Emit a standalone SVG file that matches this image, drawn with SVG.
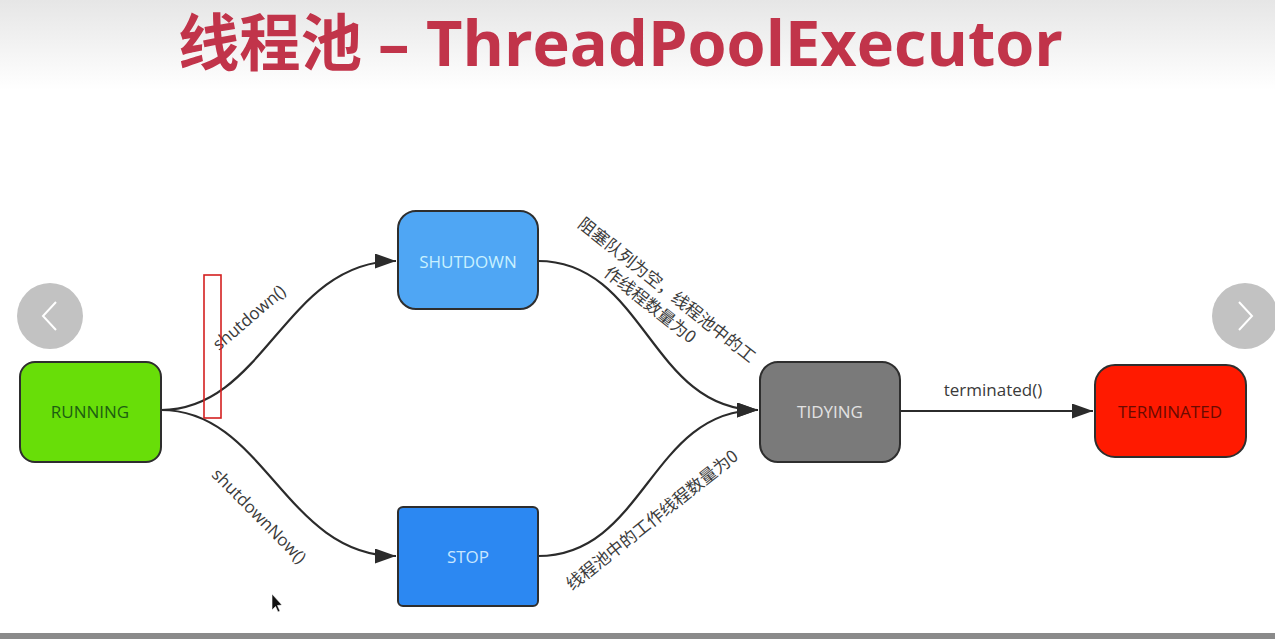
<svg xmlns="http://www.w3.org/2000/svg" width="1275" height="639" viewBox="0 0 1275 639">
  <defs>
    <linearGradient id="topFade" x1="0" y1="0" x2="0" y2="1">
      <stop offset="0" stop-color="#e6e6e6"/>
      <stop offset="1" stop-color="#ffffff"/>
    </linearGradient>
    <marker id="arrow" viewBox="0 0 21 15" refX="21" refY="7.5" markerWidth="21" markerHeight="15" markerUnits="userSpaceOnUse" orient="auto">
      <path d="M0,0 L21,7.5 L0,15 Z" fill="#2b2b2b"/>
    </marker>
    <style>
      .title { font-family: "Open Sans", "Noto Sans CJK SC", sans-serif; font-weight: 700; font-size: 62px; fill: #c1344a; }
      .node { stroke: #2e2e2e; stroke-width: 2; }
      .ntext { font-family: "Open Sans", "Liberation Sans", sans-serif; font-size: 17px; text-anchor: middle; dominant-baseline: central; }
      .edge { fill: none; stroke: #2b2b2b; stroke-width: 2.2; marker-end: url(#arrow); }
      .elabel { font-family: "Open Sans", "Noto Sans CJK SC", sans-serif; font-size: 17px; fill: #3a3a3a; text-anchor: middle; }
      .cjk { font-family: "Noto Sans CJK SC", "Open Sans", sans-serif; font-size: 17px; fill: #3c3c3c; text-anchor: middle; }
      .nav { fill: #c2c2c2; }
      .chev { fill: none; stroke: #ffffff; stroke-width: 2; }
    </style>
  </defs>

  <!-- page background -->
  <rect x="0" y="0" width="1275" height="639" fill="#ffffff"/>
  <rect x="0" y="0" width="1275" height="90" fill="url(#topFade)"/>
  <rect x="0" y="633" width="1275" height="6" fill="#8a8a8a"/>

  <!-- title -->
  <g id="title">
    <text class="title" x="178" y="66" textLength="184" lengthAdjust="spacingAndGlyphs">线程池</text>
    <text class="title" x="378" y="66" textLength="685" lengthAdjust="spacingAndGlyphs">– ThreadPoolExecutor</text>
  </g>

  <!-- slide navigation buttons -->
  <g id="nav-prev">
    <circle class="nav" cx="50" cy="316" r="33"/>
    <path class="chev" d="M56,302 L43,316 L56,330"/>
  </g>
  <g id="nav-next">
    <circle class="nav" cx="1245" cy="316" r="33"/>
    <path class="chev" d="M1239,302 L1252,316 L1239,330"/>
  </g>

  <!-- transitions -->
  <g id="connectors">
    <path class="edge" d="M161,410 C265,410 285,261 396,261"/>
    <path class="edge" d="M161,410 C265,410 285,556 396,556"/>
    <path class="edge" d="M538,261 C645,261 650,410 758,410"/>
    <path class="edge" d="M538,556 C645,556 650,410 758,410"/>
    <path class="edge" d="M900,411 L1093,411"/>

    <text class="elabel" transform="translate(253,322) rotate(-40.5)">shutdown()</text>
    <text class="elabel" transform="translate(255,520) rotate(45.3)">shutdownNow()</text>
    <text class="elabel" x="993" y="396">terminated()</text>

    <g transform="translate(667,290) rotate(38.5)">
      <text class="cjk" x="0" y="6">阻塞队列为空，线程池中的工</text>
      <text class="cjk" x="-4" y="28">作线程数量为0</text>
    </g>
    <text class="cjk" transform="translate(652,520) rotate(-38.4)" y="6">线程池中的工作线程数量为0</text>
  </g>

  <!-- states -->
  <g id="running">
    <rect class="node" x="20" y="362" width="141" height="100" rx="15" fill="#68de08"/>
    <text class="ntext" x="90" y="411" fill="#1d5e12">RUNNING</text>
  </g>
  <g id="shutdown">
    <rect class="node" x="398" y="211" width="140" height="98" rx="18" fill="#4fa6f4"/>
    <text class="ntext" x="468" y="261" fill="#c9f1ff">SHUTDOWN</text>
  </g>
  <g id="stop">
    <rect class="node" x="398" y="507" width="140" height="99" rx="5" fill="#2c88f2"/>
    <text class="ntext" x="468" y="556" fill="#c8e6ff">STOP</text>
  </g>
  <g id="tidying">
    <rect class="node" x="760" y="362" width="140" height="100" rx="18" fill="#7a7a7a"/>
    <text class="ntext" x="830" y="411" fill="#e2e2e2">TIDYING</text>
  </g>
  <g id="terminated">
    <rect class="node" x="1095" y="365" width="151" height="92" rx="20" fill="#ff1a00"/>
    <text class="ntext" x="1170" y="411" fill="#6a0a00">TERMINATED</text>
  </g>

  <!-- highlight box drawn over the shutdown() edge -->
  <rect x="204" y="275" width="17" height="143" fill="none" stroke="#d42020" stroke-width="1.6"/>

  <!-- mouse pointer -->
  <path d="M272,594 L272,610 L275.5,606.5 L278,612 L280,611 L277.5,605.5 L282,605 Z" fill="#111111" stroke="#ffffff" stroke-width="0.6"/>
</svg>
